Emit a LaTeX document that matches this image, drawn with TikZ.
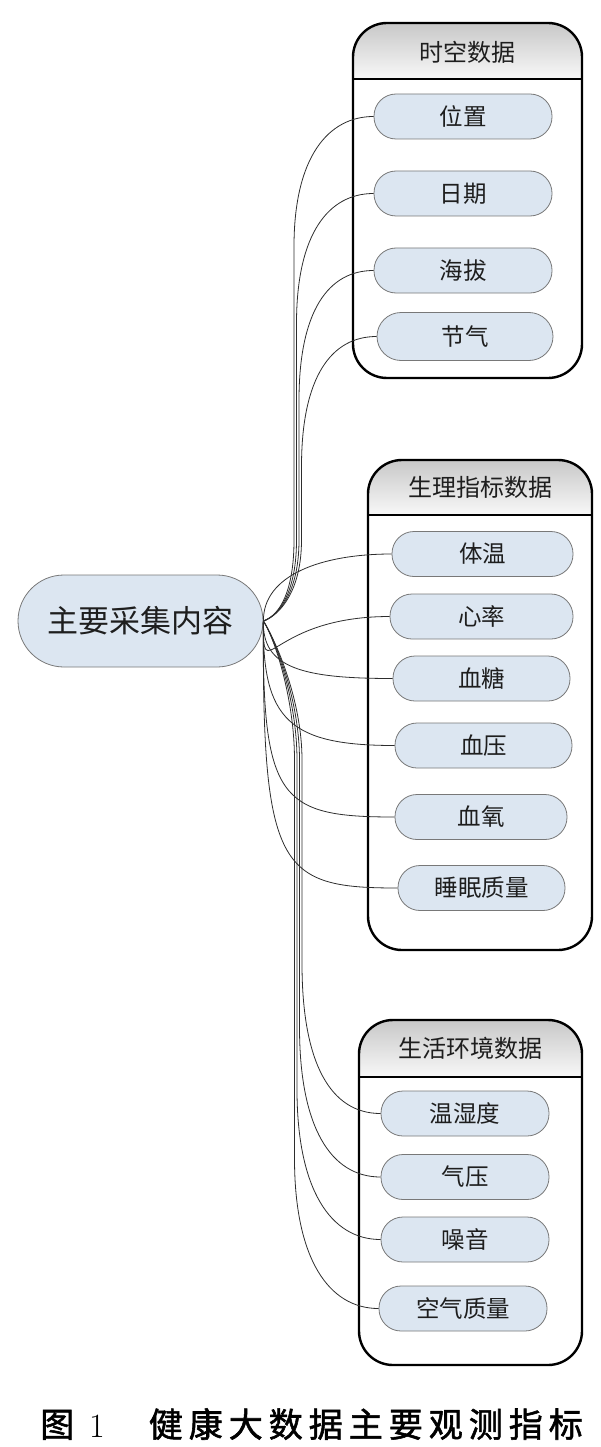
\documentclass[tikz,border=0pt]{standalone}
\usepackage{fontspec}
\newfontfamily\cjk{Noto Sans CJK SC}
\newfontfamily\cjkcap[FakeBold=1.6]{Noto Sans CJK SC}
\definecolor{itemfill}{RGB}{220,230,241}
\definecolor{itemborder}{RGB}{120,120,120}
\definecolor{textc}{RGB}{30,30,30}
\definecolor{connc}{RGB}{45,45,45}
\definecolor{headtop}{RGB}{200,200,200}
\definecolor{headbot}{RGB}{248,248,248}
\newcommand\capsp{\kern6pt}
\begin{document}
\begin{tikzpicture}[x=1pt,y=-1pt,
  item/.style={draw=itemborder, fill=itemfill, line width=0.8pt, rounded corners=22pt,
    minimum height=45pt, inner sep=0pt, text=textc, font=\cjk\fontsize{23.5}{26}\selectfont},
  central/.style={draw=itemborder, fill=itemfill, line width=0.8pt, rounded corners=46pt,
    minimum height=92pt, minimum width=245pt, inner sep=0pt, text=textc, font=\cjk\fontsize{31}{34}\selectfont},
  title/.style={inner sep=0pt, text=textc, font=\cjk\fontsize{24}{28}\selectfont},
  groupbox/.style={draw=black, line width=2.4pt, rounded corners=34pt},
  conn/.style={draw=connc, line width=0.8pt}]
\useasboundingbox (0,0) rectangle (601,1447);

% ---------- group boxes ----------
\begin{scope}
  \clip[rounded corners=34pt] (353,23) rectangle (582,378);
  \shade[top color=headtop, bottom color=headbot] (353,23) rectangle (582,79);
\end{scope}
\path[groupbox] (353,23) rectangle (582,378);
\draw[line width=2.4pt] (353,79) -- (582,79);
\node[title] (t1) at (467,52) {时空数据};

\begin{scope}
  \clip[rounded corners=34pt] (368,460) rectangle (592,950);
  \shade[top color=headtop, bottom color=headbot] (368,460) rectangle (592,515);
\end{scope}
\path[groupbox] (368,460) rectangle (592,950);
\draw[line width=2.4pt] (368,515) -- (592,515);
\node[title] (t2) at (480,487) {生理指标数据};

\begin{scope}
  \clip[rounded corners=34pt] (359,1020) rectangle (582,1365);
  \shade[top color=headtop, bottom color=headbot] (359,1020) rectangle (582,1077);
\end{scope}
\path[groupbox] (359,1020) rectangle (582,1365);
\draw[line width=2.4pt] (359,1077) -- (582,1077);
\node[title] (t3) at (470,1048) {生活环境数据};

% ---------- central node ----------
\node[central] (cent) at (140.5,621) {主要采集内容};

% ---------- items ----------
\node[item, minimum width=178pt] (weizhi) at (463,116.5) {位置};
\node[item, minimum width=178pt] (riqi)   at (463,193.5) {日期};
\node[item, minimum width=178pt] (haiba)  at (463,270.5) {海拔};
\node[item, minimum width=176pt, minimum height=48pt, rounded corners=24pt] (jieqi) at (465,336.5) {节气};

\node[item, minimum width=181pt] (tiwen)  at (482.5,554) {体温};
\node[item, minimum width=183pt] (xinlv)  at (481.5,616.5) {心率};
\node[item, minimum width=177pt] (xuetang) at (481.5,678.5) {血糖};
\node[item, minimum width=177pt] (xueya)  at (483.5,745.5) {血压};
\node[item, minimum width=172pt] (xueyang) at (481,817) {血氧};
\node[item, minimum width=167pt] (shuimian) at (481.5,888) {睡眠质量};

\node[item, minimum width=168pt] (wenshi) at (465,1113.5) {温湿度};
\node[item, minimum width=168pt] (qiya)   at (465,1177) {气压};
\node[item, minimum width=168pt] (zaoyin) at (465,1239.5) {噪音};
\node[item, minimum width=168pt] (kongqi) at (463,1308.5) {空气质量};

% ---------- connectors: top group ----------
\draw[conn] (cent.east) .. controls +(17,-6) and +(0,50) .. (294,540) -- (294,246.5)
  .. controls (294,156.5) and +(-45,0) .. (weizhi.west);
\draw[conn] (cent.east) .. controls +(17,-6) and +(0,50) .. (296.5,540) -- (296.5,323.5)
  .. controls (296.5,233.5) and +(-45,0) .. (riqi.west);
\draw[conn] (cent.east) .. controls +(17,-6) and +(0,50) .. (299,540) -- (299,400.5)
  .. controls (299,310.5) and +(-45,0) .. (haiba.west);
\draw[conn] (cent.east) .. controls +(17,-6) and +(0,50) .. (301.5,540) -- (301.5,466.5)
  .. controls (301.5,376.5) and +(-45,0) .. (jieqi.west);

% ---------- connectors: middle group ----------
\draw[conn] (cent.east) .. controls (263,575) and +(-70,0) .. (tiwen.west);
\draw[conn] (cent.east) .. controls (263,690) and +(-122,0) .. (xinlv.west);
\draw[conn] (cent.east) .. controls (262,668) and +(-90,0) .. (xuetang.west);
\draw[conn] (cent.east) .. controls (262,720) and +(-105,0) .. (xueya.west);
\draw[conn] (cent.east) .. controls (262,800) and +(-115,0) .. (xueyang.west);
\draw[conn] (cent.east) .. controls (262,870) and +(-118,0) .. (shuimian.west);

% ---------- connectors: bottom group ----------
\draw[conn] (cent.east) .. controls +(12,19) and +(0,-60) .. (302,760) -- (302,963.5)
  .. controls (302,1063.5) and +(-50,0) .. (wenshi.west);
\draw[conn] (cent.east) .. controls +(12,19) and +(0,-60) .. (299.5,760) -- (299.5,1027)
  .. controls (299.5,1127) and +(-50,0) .. (qiya.west);
\draw[conn] (cent.east) .. controls +(12,19) and +(0,-60) .. (297,760) -- (297,1089.5)
  .. controls (297,1189.5) and +(-50,0) .. (zaoyin.west);
\draw[conn] (cent.east) .. controls +(12,19) and +(0,-60) .. (294.5,760) -- (294.5,1158.5)
  .. controls (294.5,1258.5) and +(-50,0) .. (kongqi.west);

% ---------- caption ----------
\node[anchor=west, inner sep=0pt, text=black, font=\cjkcap\fontsize{34}{38}\selectfont] (cap) at (40,1424)
  {图\kern15pt{\rmfamily 1}\kern44pt 健\capsp 康\capsp 大\capsp 数\capsp 据\capsp 主\capsp 要\capsp 观\capsp 测\capsp 指\capsp 标};
\end{tikzpicture}
\end{document}
